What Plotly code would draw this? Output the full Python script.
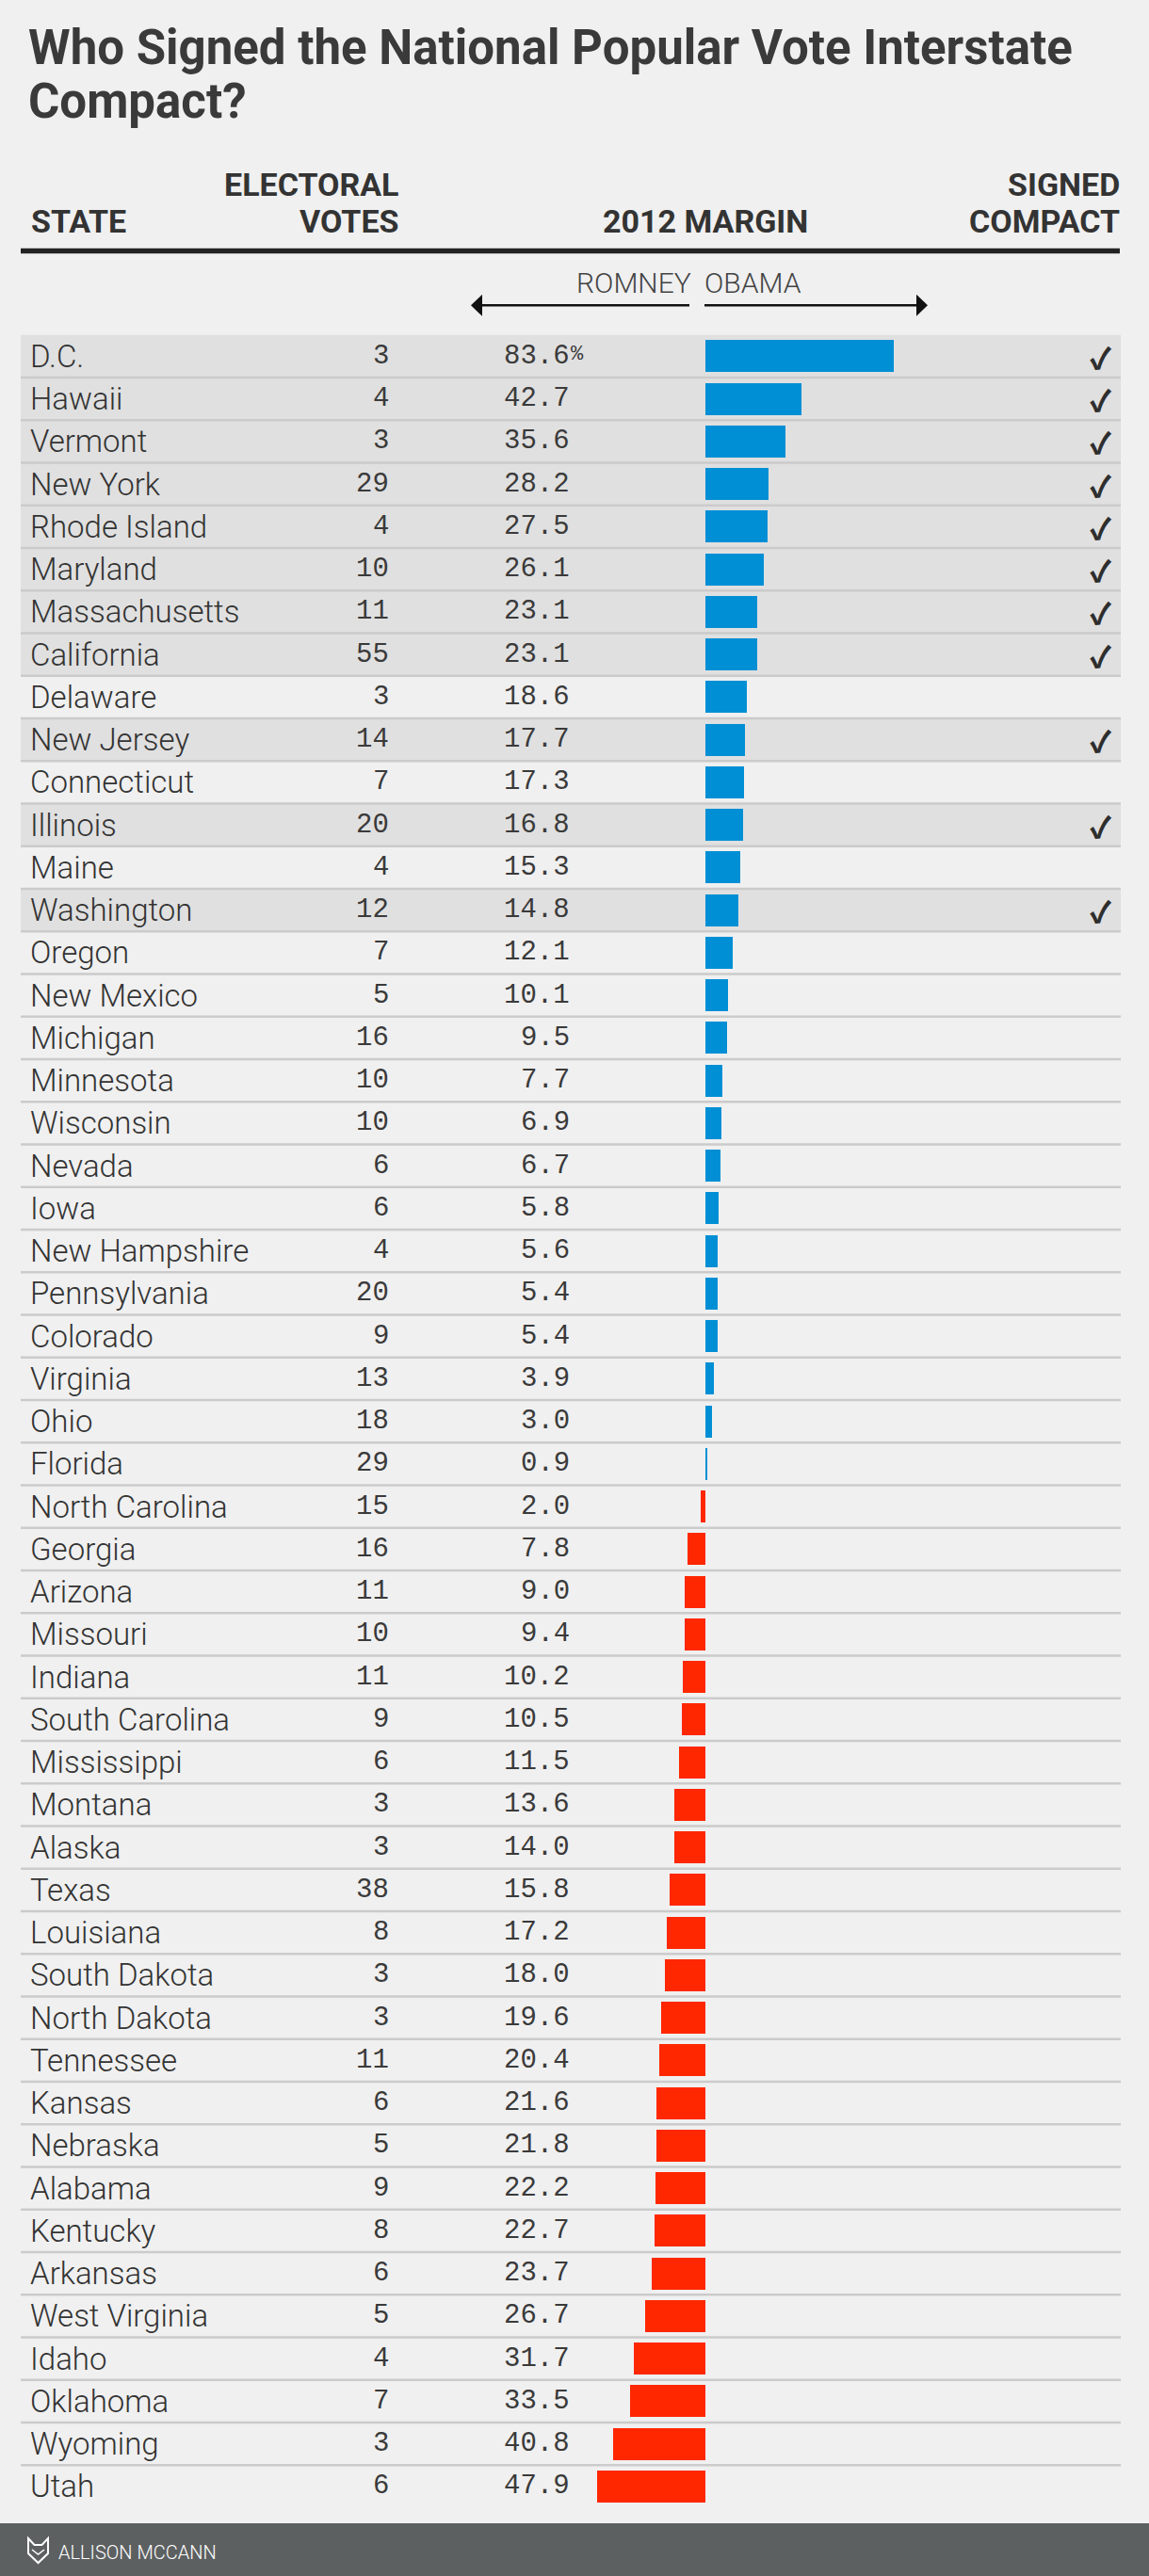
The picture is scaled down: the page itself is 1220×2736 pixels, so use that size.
import plotly.graph_objects as go

# ---------------- data ----------------
states = ["D.C.", "Hawaii", "Vermont", "New York", "Rhode Island", "Maryland", "Massachusetts",
          "California", "Delaware", "New Jersey", "Connecticut", "Illinois", "Maine", "Washington",
          "Oregon", "New Mexico", "Michigan", "Minnesota", "Wisconsin", "Nevada", "Iowa",
          "New Hampshire", "Pennsylvania", "Colorado", "Virginia", "Ohio", "Florida",
          "North Carolina", "Georgia", "Arizona", "Missouri", "Indiana", "South Carolina",
          "Mississippi", "Montana", "Alaska", "Texas", "Louisiana", "South Dakota", "North Dakota",
          "Tennessee", "Kansas", "Nebraska", "Alabama", "Kentucky", "Arkansas", "West Virginia",
          "Idaho", "Oklahoma", "Wyoming", "Utah"]
electoral_votes = [3, 4, 3, 29, 4, 10, 11, 55, 3, 14, 7, 20, 4, 12, 7, 5, 16, 10, 10, 6, 6, 4, 20, 9,
                   13, 18, 29, 15, 16, 11, 10, 11, 9, 6, 3, 3, 38, 8, 3, 3, 11, 6, 5, 9, 8, 6, 5, 4,
                   7, 3, 6]
margins = [83.6, 42.7, 35.6, 28.2, 27.5, 26.1, 23.1, 23.1, 18.6, 17.7, 17.3, 16.8, 15.3, 14.8,
           12.1, 10.1, 9.5, 7.7, 6.9, 6.7, 5.8, 5.6, 5.4, 5.4, 3.9, 3.0, 0.9,
           2.0, 7.8, 9.0, 9.4, 10.2, 10.5, 11.5, 13.6, 14.0, 15.8, 17.2, 18.0, 19.6, 20.4, 21.6,
           21.8, 22.2, 22.7, 23.7, 26.7, 31.7, 33.5, 40.8, 47.9]
winners = ["Obama"] * 27 + ["Romney"] * 24
signed = [True, True, True, True, True, True, True, True, False, True, False, True, False, True] + [False] * 37

title_lines = ["Who Signed the National Popular Vote Interstate", "Compact?"]
byline = "ALLISON MCCANN"

# ---------------- styling ----------------
W, H = 1220, 2736
BG = "#f0f0f0"
ROW_SIGNED = "#e0e0e0"
DIVIDER = "#cbcbcb"
BLUE = "#008fd5"
RED = "#ff2700"
TXT = "#333333"
FOOT = "#5d6061"

ZERO_PX = 749.0          # pixel of zero margin
PX_PER_PT = 2.392        # pixels per percentage point
ROW_TOP = 355.75         # pixel top of first row
ROW_H = 45.25            # row height in pixels


def X(p):
    return p / W


def Y(p):
    return 1 - p / H


x_range = [-ZERO_PX / PX_PER_PT, (W - ZERO_PX) / PX_PER_PT]
y_range = [(H - ROW_TOP) / ROW_H - 0.5, -ROW_TOP / ROW_H - 0.5]

bar_x = [m if w == "Obama" else -m for m, w in zip(margins, winners)]
bar_colors = [BLUE if w == "Obama" else RED for w in winners]

fig = go.Figure()
fig.add_trace(go.Bar(
    x=bar_x, y=states, orientation="h", width=0.75,
    marker=dict(color=bar_colors, line=dict(width=0)),
    hoverinfo="skip",
))

shapes = []
annotations = []

# row backgrounds & dividers
for i, s in enumerate(states):
    if signed[i]:
        shapes.append(dict(type="rect", xref="paper", yref="y", x0=X(22), x1=X(1190),
                           y0=i - 0.5, y1=i + 0.5, fillcolor=ROW_SIGNED, line=dict(width=0),
                           layer="below"))
for i in range(1, len(states)):
    shapes.append(dict(type="line", xref="paper", yref="y", x0=X(22), x1=X(1190),
                       y0=i - 0.5, y1=i - 0.5, line=dict(color=DIVIDER, width=2.5), layer="below"))

num_font = dict(family="Liberation Mono", size=29, color="#3a3a3a")

# row texts
for i, s in enumerate(states):
    annotations.append(dict(x=X(30), y=s, xref="paper", yref="y", xanchor="left", yanchor="middle",
                            text=s, showarrow=False,
                            font=dict(family="Roboto", size=33, color=TXT, weight=300)))
    annotations.append(dict(x=X(415), y=s, xref="paper", yref="y", xanchor="right", yanchor="middle",
                            text=str(electoral_votes[i]), showarrow=False, font=num_font))
    annotations.append(dict(x=X(607), y=s, xref="paper", yref="y", xanchor="right", yanchor="middle",
                            text=f"{margins[i]:.1f}", showarrow=False, font=num_font))
    if signed[i]:
        annotations.append(dict(x=X(1183), y=s, xref="paper", yref="y", xanchor="right",
                                yanchor="middle", text="\u2713", showarrow=False,
                                font=dict(family="Noto Sans CJK JP", size=31, color="#2e2e2e",
                                          weight=900)))
# percent sign on first row
annotations.append(dict(x=X(604), y=states[0], xref="paper", yref="y", xanchor="left",
                        yanchor="middle", yshift=2, text="%", showarrow=False,
                        font=dict(family="Liberation Mono", size=22, color="#3a3a3a")))

# title
tfont = dict(family="Roboto", size=51, color="#3a3a3a", weight="bold")
annotations.append(dict(x=X(28), y=Y(51), xref="paper", yref="paper", xanchor="left", yanchor="middle",
                        text=title_lines[0], showarrow=False, font=tfont))
annotations.append(dict(x=X(28), y=Y(107), xref="paper", yref="paper", xanchor="left", yanchor="middle",
                        text=title_lines[1], showarrow=False, font=tfont))

# column headers
hfont = dict(family="Roboto", size=34, color="#333333", weight="bold")
headers = [
    ("STATE", 31, 235, "left"),
    ("ELECTORAL", 425, 196, "right"),
    ("VOTES", 425, 235, "right"),
    ("2012 MARGIN", 749, 235, "center"),
    ("SIGNED", 1191, 196, "right"),
    ("COMPACT", 1191, 235, "right"),
]
for t, xp, yp, anc in headers:
    annotations.append(dict(x=X(xp), y=Y(yp), xref="paper", yref="paper", xanchor=anc, yanchor="middle",
                            text=t, showarrow=False, font=hfont))
shapes.append(dict(type="line", xref="paper", yref="paper", x0=X(22), x1=X(1189), y0=Y(266.5), y1=Y(266.5),
                   line=dict(color="#222222", width=5.5)))

# ROMNEY / OBAMA direction labels and arrows
dfont = dict(family="Roboto", size=30, color="#444444", weight=300)
annotations.append(dict(x=X(736), y=Y(300), xref="paper", yref="paper", xanchor="right", yanchor="middle",
                        text="ROMNEY", showarrow=False, font=dfont))
annotations.append(dict(x=X(746), y=Y(300), xref="paper", yref="paper", xanchor="left", yanchor="middle",
                        text="OBAMA", showarrow=False, font=dfont))
ay = 324.3
shapes.append(dict(type="line", xref="paper", yref="paper", x0=X(506), x1=X(732), y0=Y(ay), y1=Y(ay),
                   line=dict(color="#111111", width=2.5)))
shapes.append(dict(type="line", xref="paper", yref="paper", x0=X(748), x1=X(978), y0=Y(ay), y1=Y(ay),
                   line=dict(color="#111111", width=2.5)))
shapes.append(dict(type="path", xref="paper", yref="paper",
                   path=f"M {X(500)},{Y(ay)} L {X(512)},{Y(ay-11.5)} L {X(512)},{Y(ay+11.5)} Z",
                   fillcolor="#111111", line=dict(width=0)))
shapes.append(dict(type="path", xref="paper", yref="paper",
                   path=f"M {X(985)},{Y(ay)} L {X(973)},{Y(ay-11.5)} L {X(973)},{Y(ay+11.5)} Z",
                   fillcolor="#111111", line=dict(width=0)))

# footer
shapes.append(dict(type="rect", xref="paper", yref="paper", x0=0, x1=1, y0=Y(2680), y1=0,
                   fillcolor=FOOT, line=dict(width=0)))
logo = [(30, 2696), (36.5, 2703), (44.5, 2703), (51, 2696), (51, 2712), (40.5, 2722), (30, 2712)]
path = "M " + " L ".join(f"{X(a)},{Y(b)}" for a, b in logo) + " Z"
shapes.append(dict(type="path", xref="paper", yref="paper", path=path,
                   fillcolor="rgba(0,0,0,0)", line=dict(color="white", width=2)))
shapes.append(dict(type="path", xref="paper", yref="paper",
                   path=f"M {X(34)},{Y(2708)} L {X(40.5)},{Y(2713)} L {X(47)},{Y(2708)}",
                   line=dict(color="white", width=1.5)))
annotations.append(dict(x=X(60), y=Y(2711), xref="paper", yref="paper", xanchor="left", yanchor="middle",
                        text=byline, showarrow=False,
                        font=dict(family="Roboto", size=20, color="white", weight=300)))

fig.update_layout(
    width=W, height=H,
    margin=dict(l=0, r=0, t=0, b=0, pad=0),
    paper_bgcolor=BG, plot_bgcolor=BG,
    showlegend=False,
    bargap=0,
    xaxis=dict(range=x_range, visible=False, fixedrange=True, domain=[0, 1]),
    yaxis=dict(type="category", categoryorder="array", categoryarray=states, range=y_range,
               visible=False, fixedrange=True, domain=[0, 1]),
    shapes=shapes,
    annotations=annotations,
)

fig.write_html("out.html", config={"displayModeBar": False},
               post_script="document.body.style.margin='0';document.body.style.background='#f0f0f0';")
